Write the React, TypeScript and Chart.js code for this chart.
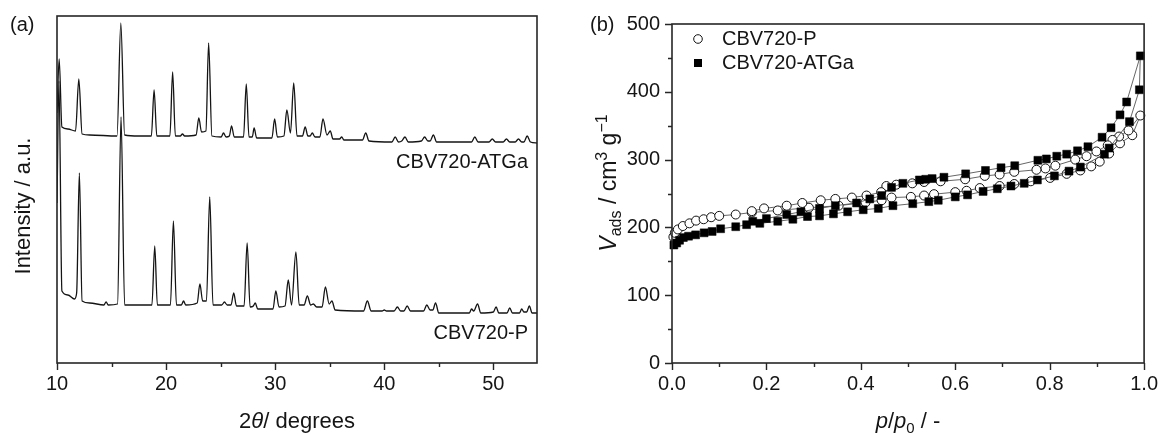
import React, { useEffect, useRef } from "react";
import { Chart, registerables } from "chart.js";

Chart.register(...registerables);

const FONT = "'Liberation Sans', Arial, Helvetica, sans-serif";
const INK = "#151515";

// ---------- (a) XRD patterns ----------
const xrdTicks = [10, 20, 30, 40, 50];
const xrdMinorTicks = [15, 25, 35, 45];

const xrdThetaATGa = [
  10.0, 10.2, 10.45, 11.0, 11.7, 12.0, 12.3, 13.0, 15.5, 15.85, 16.2, 17.5, 18.65, 18.9, 19.15,
  20.35, 20.6, 20.85, 21.3, 21.5, 21.7, 22.75, 23.0, 23.25, 23.65, 23.9, 24.2, 25.05, 25.26, 25.5,
  25.8, 26.0, 26.25, 27.1, 27.35, 27.6, 27.9, 28.07, 28.3, 29.7, 29.95, 30.2, 30.8, 31.07, 31.4,
  31.7, 32.0, 32.5, 32.75, 33.0, 33.2, 33.4, 33.65, 34.1, 34.38, 34.75, 35.05, 35.3, 35.9, 36.1,
  36.3, 38.0, 38.3, 38.6, 40.7, 41.0, 41.3, 41.6, 41.9, 42.2, 43.4, 43.7, 44.0, 44.2, 44.5,
  44.8, 48.0, 48.3, 48.6, 49.6, 49.9, 50.2, 50.9, 51.2, 51.5, 52.0, 52.3, 52.6, 52.8, 53.1,
  53.4, 54.0,
];
const xrdIntATGa = [
  250, 304, 236, 234, 232, 284, 229, 228, 227, 340, 228, 227, 227, 273, 227,
  227, 291, 227, 227, 229, 227, 228, 245, 231, 232, 320, 227, 226, 230, 226,
  227, 237, 226, 226, 279, 226, 226, 235, 225, 225, 244, 226, 227, 253, 230,
  280, 227, 227, 236, 227, 227, 230, 226, 226, 244, 228, 232, 224, 224, 226,
  223, 223, 230, 222, 221, 226, 221, 222, 226, 221, 222, 226, 222, 222, 228,
  221, 221, 226, 221, 221, 224, 221, 221, 224, 221, 221, 224, 221, 221, 227,
  221, 220,
];

const xrdThetaP = [
  10.0, 10.18, 10.45, 11.0, 11.6, 11.8, 12.05, 12.3, 13.0, 14.3, 14.5, 14.7, 15.55, 15.87, 16.2,
  17.5, 18.7, 18.96, 19.2, 20.4, 20.67, 20.95, 21.4, 21.6, 21.8, 22.85, 23.1, 23.35, 23.7, 24.0,
  24.3, 25.1, 25.35, 25.6, 25.95, 26.2, 26.45, 27.15, 27.43, 27.7, 28.0, 28.17, 28.4, 29.8, 30.06,
  30.35, 30.9, 31.2, 31.5, 31.9, 32.2, 32.65, 32.95, 33.25, 33.5, 33.8, 34.3, 34.6, 34.95, 35.2,
  35.5, 38.1, 38.45, 38.8, 39.8, 40.0, 40.2, 40.9, 41.2, 41.5, 41.8, 42.1, 42.4, 43.6, 43.9,
  44.2, 44.45, 44.7, 45.0, 47.8, 48.0, 48.2, 48.55, 48.85, 50.0, 50.25, 50.5, 51.25, 51.5, 51.75,
  52.4, 52.6, 52.8, 53.05, 53.3, 53.55, 54.0,
];
const xrdIntP = [
  160, 282, 72, 68, 64, 70, 190, 62, 60, 58, 61, 58, 59, 246, 58,
  58, 58, 117, 58, 58, 142, 58, 58, 62, 58, 60, 79, 62, 62, 166,
  58, 58, 61, 58, 58, 70, 57, 57, 120, 56, 57, 60, 54, 54, 72,
  56, 57, 83, 58, 111, 58, 58, 67, 58, 59, 56, 56, 76, 59, 62,
  53, 52, 62, 52, 52, 53, 52, 52, 56, 52, 52, 57, 52, 52, 58,
  53, 53, 60, 50, 50, 54, 52, 59, 50, 51, 56, 50, 50, 55, 50,
  50, 54, 51, 51, 57, 50, 50,
];

// ---------- (b) N2 isotherms (adsorption then desorption) ----------
const isoXTicks = [0, 0.2, 0.4, 0.6, 0.8, 1.0];
const isoXMinor = [0.1, 0.3, 0.5, 0.7, 0.9];
const isoYTicks = [0, 100, 200, 300, 400, 500];
const isoYMinor = [50, 150, 250, 350, 450];

const relPressureP = [
  0.003, 0.006, 0.0125, 0.023, 0.037, 0.051, 0.067, 0.083, 0.1, 0.135, 0.169, 0.224, 0.29, 0.353,
  0.41, 0.444, 0.465, 0.506, 0.534, 0.555, 0.6, 0.624, 0.652, 0.694, 0.725, 0.76, 0.801, 0.836,
  0.865, 0.888, 0.906, 0.926, 0.949, 0.975, 0.992,
  0.967, 0.947, 0.933, 0.923, 0.899, 0.878, 0.854, 0.812, 0.791, 0.772, 0.725, 0.694, 0.6625,
  0.621, 0.569, 0.534, 0.509, 0.475, 0.454, 0.443, 0.412, 0.381, 0.346, 0.315, 0.276, 0.243,
  0.195, 0.169,
];
const vAdsP = [
  186, 192, 197, 202, 206, 210, 212, 215, 217, 219, 222, 225, 229, 232,
  237, 240, 244, 245, 247, 249, 252, 254, 258, 261, 264, 268, 273, 279,
  284, 290, 297, 309, 324, 336, 365,
  343, 334, 329, 321, 312, 305, 300, 291, 287, 285, 282, 278, 276,
  271, 268, 267, 265, 263, 261, 252, 247, 244, 242, 240, 236, 232,
  228, 224,
];

const relPressureATGa = [
  0.004, 0.01, 0.016, 0.024, 0.035, 0.05, 0.068, 0.085, 0.103, 0.135, 0.158, 0.186, 0.224, 0.256,
  0.287, 0.3125, 0.342, 0.372, 0.405, 0.437, 0.468, 0.51, 0.544, 0.564, 0.6, 0.626, 0.659, 0.689,
  0.718, 0.746, 0.774, 0.81, 0.841, 0.865, 0.916, 0.926, 0.969, 0.99, 0.992,
  0.963, 0.949, 0.93, 0.911, 0.881, 0.859, 0.836, 0.815, 0.793, 0.775, 0.726, 0.697, 0.664,
  0.622, 0.576, 0.551, 0.5375, 0.524, 0.489, 0.465, 0.444, 0.419, 0.391, 0.346, 0.3125, 0.273,
  0.243, 0.2, 0.171,
];
const vAdsATGa = [
  174, 177, 181, 185, 187, 189, 192, 194, 198, 201, 204, 206, 209, 212,
  216, 217, 220, 223, 226, 228, 232, 235, 238, 240, 245, 248, 253, 257,
  261, 265, 270, 276, 283, 289, 308, 317, 356, 403, 453,
  385, 366, 347, 333, 319, 313, 308, 305, 301, 299, 291, 288, 284,
  279, 274, 272, 271, 270, 265, 259, 247, 242, 236, 232, 228, 223,
  219, 213, 209,
];

const toPoints = (xs: number[], ys: number[]) => xs.map((x, i) => ({ x, y: ys[i] }));

type Seg = { t: string; size: number; italic?: boolean; dy?: number };
function segsWidth(ctx: CanvasRenderingContext2D, segs: Seg[]) {
  let w = 0;
  for (const s of segs) {
    ctx.font = `${s.italic ? "italic " : ""}${s.size}px ${FONT}`;
    w += ctx.measureText(s.t).width;
  }
  return w;
}
function drawSegs(ctx: CanvasRenderingContext2D, segs: Seg[], x: number, y: number) {
  let cx = x;
  ctx.textAlign = "left";
  ctx.textBaseline = "alphabetic";
  for (const s of segs) {
    ctx.font = `${s.italic ? "italic " : ""}${s.size}px ${FONT}`;
    ctx.fillText(s.t, cx, y + (s.dy || 0));
    cx += ctx.measureText(s.t).width;
  }
}

function drawBoxAndTicks(
  chart: any,
  xMajor: number[],
  xMinor: number[],
  yMajor: number[] | null,
  yMinor: number[] | null
) {
  const { ctx, chartArea: a, scales } = chart;
  ctx.save();
  ctx.strokeStyle = "#262626";
  ctx.lineWidth = 1.6;
  ctx.strokeRect(a.left, a.top, a.right - a.left, a.bottom - a.top);
  ctx.lineWidth = 1.4;
  ctx.beginPath();
  for (const t of xMajor) {
    const px = Math.round(scales.x.getPixelForValue(t)) + 0.5;
    ctx.moveTo(px, a.bottom);
    ctx.lineTo(px, a.bottom + 7);
  }
  for (const t of xMinor) {
    const px = Math.round(scales.x.getPixelForValue(t)) + 0.5;
    ctx.moveTo(px, a.bottom);
    ctx.lineTo(px, a.bottom + 4);
  }
  if (yMajor) {
    for (const t of yMajor) {
      const py = Math.round(scales.y.getPixelForValue(t)) + 0.5;
      ctx.moveTo(a.left, py);
      ctx.lineTo(a.left - 7, py);
    }
  }
  if (yMinor) {
    for (const t of yMinor) {
      const py = Math.round(scales.y.getPixelForValue(t)) + 0.5;
      ctx.moveTo(a.left, py);
      ctx.lineTo(a.left - 4, py);
    }
  }
  ctx.stroke();
  ctx.restore();
}

const xrdDecor = {
  id: "xrdDecor",
  afterDraw(chart: any) {
    const { ctx, chartArea: a } = chart;
    drawBoxAndTicks(chart, xrdTicks, xrdMinorTicks, null, null);
    ctx.save();
    ctx.fillStyle = INK;
    ctx.font = `20px ${FONT}`;
    ctx.textAlign = "left";
    ctx.textBaseline = "alphabetic";
    ctx.fillText("(a)", 10, 31);
    ctx.textAlign = "right";
    ctx.textBaseline = "middle";
    ctx.fillText("CBV720-ATGa", a.right - 9, 162);
    ctx.fillText("CBV720-P", a.right - 9, 333);
    const xt: Seg[] = [
      { t: "2", size: 22 },
      { t: "θ", size: 22, italic: true },
      { t: "/ degrees", size: 22 },
    ];
    const w = segsWidth(ctx, xt);
    drawSegs(ctx, xt, (a.left + a.right) / 2 - w / 2, 428);
    ctx.translate(30, 206);
    ctx.rotate(-Math.PI / 2);
    ctx.font = `22px ${FONT}`;
    ctx.textAlign = "center";
    ctx.textBaseline = "alphabetic";
    ctx.fillText("Intensity / a.u.", 0, 0);
    ctx.restore();
  },
};

const isoDecor = {
  id: "isoDecor",
  afterDraw(chart: any) {
    const { ctx, chartArea: a } = chart;
    drawBoxAndTicks(chart, isoXTicks, isoXMinor, isoYTicks, isoYMinor);
    ctx.save();
    ctx.fillStyle = INK;
    ctx.font = `20px ${FONT}`;
    ctx.textAlign = "left";
    ctx.textBaseline = "alphabetic";
    ctx.fillText("(b)", 5, 31);
    const lx = a.left + 26;
    ctx.lineWidth = 1;
    ctx.strokeStyle = "#111";
    ctx.fillStyle = "#fff";
    ctx.beginPath();
    ctx.arc(lx, 39, 4.3, 0, Math.PI * 2);
    ctx.fill();
    ctx.stroke();
    ctx.fillStyle = "#000";
    ctx.fillRect(lx - 4, 59, 8, 8);
    ctx.fillStyle = INK;
    ctx.textBaseline = "middle";
    ctx.fillText("CBV720-P", a.left + 50, 39);
    ctx.fillText("CBV720-ATGa", a.left + 50, 63);
    const xt: Seg[] = [
      { t: "p", size: 22, italic: true },
      { t: "/", size: 22 },
      { t: "p", size: 22, italic: true },
      { t: "0", size: 15, dy: 5 },
      { t: " / -", size: 22 },
    ];
    const w = segsWidth(ctx, xt);
    drawSegs(ctx, xt, (a.left + a.right) / 2 - w / 2, 428);
    const yt: Seg[] = [
      { t: "V", size: 23, italic: true },
      { t: "ads", size: 16, dy: 5 },
      { t: " / cm", size: 23 },
      { t: "3", size: 16, dy: -9 },
      { t: " g", size: 23 },
      { t: "−1", size: 16, dy: -9 },
    ];
    const wy = segsWidth(ctx, yt);
    ctx.translate(31, 183);
    ctx.rotate(-Math.PI / 2);
    drawSegs(ctx, yt, -wy / 2, 0);
    ctx.restore();
  },
};

const tickFont = { family: FONT, size: 20 };

export default function App() {
  const leftRef = useRef<HTMLCanvasElement>(null);
  const rightRef = useRef<HTMLCanvasElement>(null);

  useEffect(() => {
    const left = new Chart(leftRef.current as HTMLCanvasElement, {
      type: "scatter",
      data: {
        datasets: [
          {
            label: "CBV720-P",
            data: toPoints(xrdThetaP, xrdIntP),
            showLine: true,
            borderColor: "#141414",
            borderWidth: 1.3,
            pointRadius: 0,
            cubicInterpolationMode: "monotone",
          },
          {
            label: "CBV720-ATGa",
            data: toPoints(xrdThetaATGa, xrdIntATGa),
            showLine: true,
            borderColor: "#141414",
            borderWidth: 1.3,
            pointRadius: 0,
            cubicInterpolationMode: "monotone",
          },
        ],
      },
      options: {
        animation: false,
        responsive: false,
        devicePixelRatio: 1,
        events: [],
        layout: { padding: { left: 57, right: 48, top: 16, bottom: 0 } },
        plugins: { legend: { display: false }, tooltip: { enabled: false } },
        scales: {
          x: {
            type: "linear",
            min: 10,
            max: 54,
            grid: { display: false, drawTicks: false },
            border: { display: false },
            ticks: { font: tickFont, color: INK, padding: 9, maxRotation: 0 },
            afterBuildTicks: (s: any) => {
              s.ticks = xrdTicks.map((v) => ({ value: v }));
            },
            afterFit: (s: any) => {
              s.height = 72;
            },
          },
          y: { type: "linear", min: 0, max: 347, display: false },
        },
      },
      plugins: [xrdDecor],
    } as any);

    const right = new Chart(rightRef.current as HTMLCanvasElement, {
      type: "scatter",
      data: {
        datasets: [
          {
            label: "CBV720-P",
            data: toPoints(relPressureP, vAdsP),
            showLine: true,
            borderColor: "#555",
            borderWidth: 0.9,
            pointStyle: "circle",
            pointRadius: 4.5,
            pointBackgroundColor: "#fff",
            pointBorderColor: "#111",
            pointBorderWidth: 1,
            order: 1,
            clip: false,
          },
          {
            label: "CBV720-ATGa",
            data: toPoints(relPressureATGa, vAdsATGa),
            showLine: true,
            borderColor: "#555",
            borderWidth: 0.9,
            pointStyle: "rect",
            pointRadius: 5.6,
            pointBackgroundColor: "#000",
            pointBorderColor: "#000",
            pointBorderWidth: 0.5,
            order: 0,
            clip: false,
          },
        ],
      },
      options: {
        animation: false,
        responsive: false,
        devicePixelRatio: 1,
        events: [],
        layout: { padding: { left: 0, right: 15, top: 16, bottom: 0 } },
        plugins: { legend: { display: false }, tooltip: { enabled: false } },
        scales: {
          x: {
            type: "linear",
            min: 0,
            max: 1,
            grid: { display: false, drawTicks: false },
            border: { display: false },
            ticks: {
              font: tickFont,
              color: INK,
              padding: 9,
              maxRotation: 0,
              callback: (v: any) => Number(v).toFixed(1),
            },
            afterBuildTicks: (s: any) => {
              s.ticks = isoXTicks.map((v) => ({ value: v }));
            },
            afterFit: (s: any) => {
              s.height = 72;
            },
          },
          y: {
            type: "linear",
            min: 0,
            max: 500,
            position: "left",
            grid: { display: false, drawTicks: false },
            border: { display: false },
            ticks: { font: tickFont, color: INK, padding: 12 },
            afterBuildTicks: (s: any) => {
              s.ticks = isoYTicks.map((v) => ({ value: v }));
            },
            afterFit: (s: any) => {
              s.width = 87;
            },
          },
        },
      },
      plugins: [isoDecor],
    } as any);

    return () => {
      left.destroy();
      right.destroy();
    };
  }, []);

  return (
    <div
      style={{
        position: "fixed",
        left: 0,
        top: 0,
        width: 1167,
        height: 435,
        background: "#fff",
        overflow: "hidden",
      }}
    >
      <canvas
        ref={leftRef}
        width={585}
        height={435}
        style={{ position: "absolute", left: 0, top: 0, width: 585, height: 435 }}
      />
      <canvas
        ref={rightRef}
        width={582}
        height={435}
        style={{ position: "absolute", left: 585, top: 0, width: 582, height: 435 }}
      />
    </div>
  );
}
